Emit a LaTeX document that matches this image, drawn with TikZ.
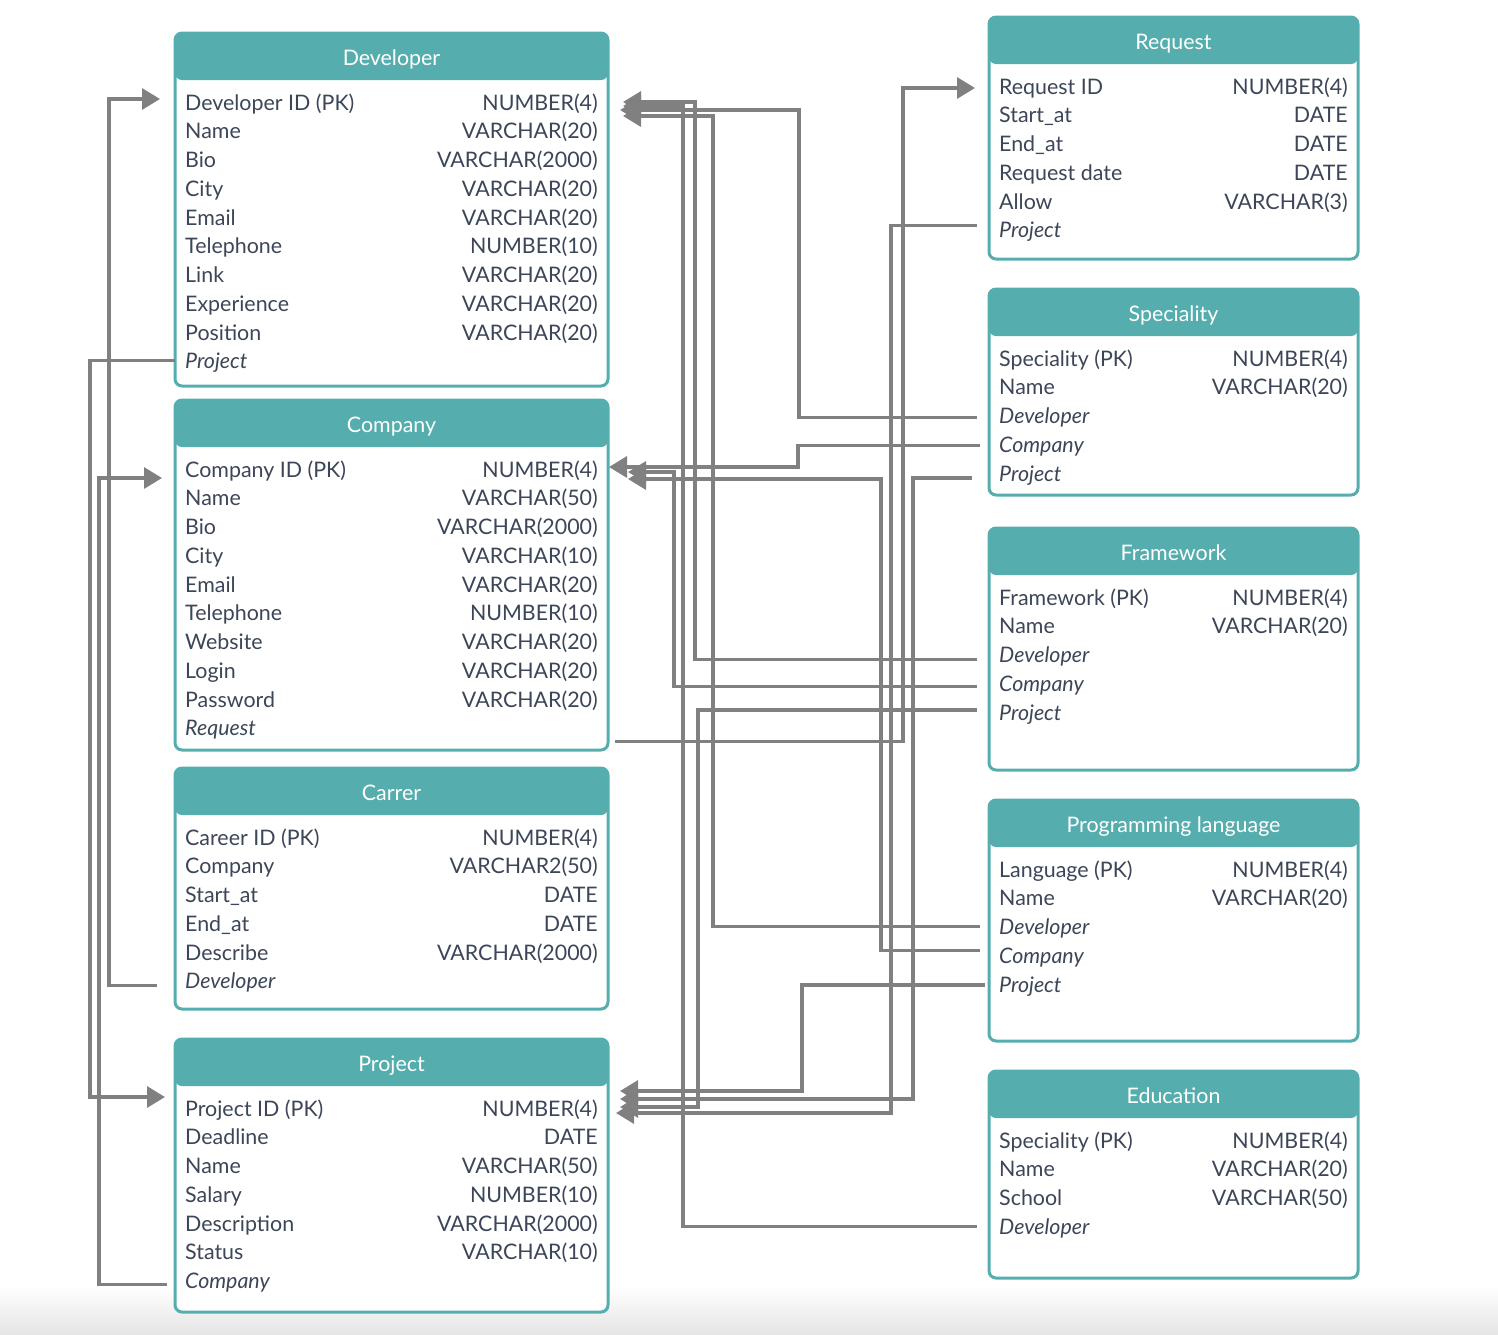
\documentclass[tikz,border=0pt]{standalone}
\usepackage{fontspec}
\setmainfont{Lato}
\usetikzlibrary{arrows.meta}

\definecolor{erteal}{HTML}{55ADAE}
\definecolor{ertext}{HTML}{3C4658}
\definecolor{erline}{HTML}{808080}

\tikzset{
  tbl/.style={draw=erteal, line width=3pt, rounded corners=7pt, fill=white,
    anchor=north west, inner sep=0pt, outer sep=0pt,
    path picture={\fill[erteal] (path picture bounding box.north west)
      rectangle ([yshift=-47pt]path picture bounding box.north east);}},
  ttl/.style={text=white, inner sep=0pt, text height=16pt, text depth=0pt},
  fld/.style={text=ertext, anchor=west, inner sep=0pt, text height=16pt, text depth=0pt},
  typ/.style={fld, anchor=east},
  link/.style={draw=erline, line width=3.2pt},
  tolink/.style={link, -{Triangle[length=18pt,width=21pt]}}
}

% one table: id, x, top, width, height, title, rows
\newcommand{\ertable}[7]{%
  \node[tbl, minimum width=#4pt, minimum height=#5pt] (#1) at (#2,#3) {};
  \node[ttl] (#1-t) at ({#2+#4/2},{#3+24}) {#6};
  \foreach \n/\t [count=\i] in {#7} {
    \node[fld] (#1-\i) at ({#2+10},{#3+69+28.75*(\i-1)}) {\n};
    \node[typ] (#1-\i-t) at ({#2+#4-10},{#3+69+28.75*(\i-1)}) {\t};
  }
}

\begin{document}
\fontsize{21.4}{26}\selectfont
\begin{tikzpicture}[x=1pt, y=-1pt]
  \useasboundingbox (0,0) rectangle (1498,1334);
  \shade[top color=white, bottom color=black!10] (0,1285) rectangle (1498,1334);

  % left column
  \ertable{dev}{175}{33}{433}{353}{Developer}{Developer ID (PK)/NUMBER(4), Name/VARCHAR(20),
    Bio/VARCHAR(2000), City/VARCHAR(20), Email/VARCHAR(20), Telephone/NUMBER(10),
    Link/VARCHAR(20), Experience/VARCHAR(20), Position/VARCHAR(20), {\itshape Project}/{}}
  \ertable{com}{175}{400}{433}{350}{Company}{Company ID (PK)/NUMBER(4), Name/VARCHAR(50),
    Bio/VARCHAR(2000), City/VARCHAR(10), Email/VARCHAR(20), Telephone/NUMBER(10),
    Website/VARCHAR(20), Login/VARCHAR(20), Password/VARCHAR(20), {\itshape Request}/{}}
  \ertable{car}{175}{768}{433}{241}{Carrer}{Career ID (PK)/NUMBER(4), Company/VARCHAR2(50),
    Start\_at/DATE, End\_at/DATE, Describe/VARCHAR(2000), {\itshape Developer}/{}}
  \ertable{prj}{175}{1039}{433}{273}{Project}{Project ID (PK)/NUMBER(4), Deadline/DATE,
    Name/VARCHAR(50), Salary/NUMBER(10), Description/VARCHAR(2000), Status/VARCHAR(10),
    {\itshape Company}/{}}

  % right column
  \ertable{req}{989}{17}{369}{242}{Request}{Request ID/NUMBER(4), Start\_at/DATE, End\_at/DATE,
    Request date/DATE, Allow/VARCHAR(3), {\itshape Project}/{}}
  \ertable{spc}{989}{289}{369}{206}{Speciality}{Speciality (PK)/NUMBER(4), Name/VARCHAR(20),
    {\itshape Developer}/{}, {\itshape Company}/{}, {\itshape Project}/{}}
  \ertable{frw}{989}{528}{369}{242}{Framework}{Framework (PK)/NUMBER(4), Name/VARCHAR(20),
    {\itshape Developer}/{}, {\itshape Company}/{}, {\itshape Project}/{}}
  \ertable{lng}{989}{800}{369}{241}{Programming language}{Language (PK)/NUMBER(4), Name/VARCHAR(20),
    {\itshape Developer}/{}, {\itshape Company}/{}, {\itshape Project}/{}}
  \ertable{edu}{989}{1071}{369}{207}{Education}{Speciality (PK)/NUMBER(4), Name/VARCHAR(20),
    School/VARCHAR(50), {\itshape Developer}/{}}

  % links on the left
  \draw[tolink] (dev.west |- dev-10) -- ++(-85,0) |- ([xshift=-10pt,yshift=11pt]prj.west |- prj-1);
  \draw[tolink] ([xshift=-18pt,yshift=-5pt]car.west |- car-6) -- ++(-48,0) |- ([xshift=-15pt,yshift=3pt]dev.west |- dev-1);
  \draw[tolink] ([xshift=-8pt,yshift=-4pt]prj.west |- prj-7) -- ++(-68,0) |- ([xshift=-13pt,yshift=-9pt]com.west |- com-1);

  % links across the middle
  \draw[tolink] ([xshift=7pt,yshift=-14pt]com.east |- com-10) -- ++(288,0) |- ([xshift=-14pt,yshift=-2pt]req.west |- req-1);
  \draw[tolink] ([xshift=-12pt,yshift=4pt]req.west |- req-6) -- ++(-86,0) |- ([xshift=8pt,yshift=-5pt]prj.east |- prj-1);
  \draw[tolink] ([xshift=-12pt,yshift=-2pt]spc.west |- spc-3) -- ++(-178,0) |- ([xshift=12pt,yshift=-8pt]dev.east |- dev-1);
  \draw[tolink] ([xshift=-9pt,yshift=-1pt]spc.west |- spc-4) -- ++(-182,0) |- ([xshift=1pt,yshift=2pt]com.east |- com-1);
  \draw[tolink] ([xshift=-17pt,yshift=-5pt]spc.west |- spc-5) -- ++(-59,0) |- ([xshift=12pt,yshift=9pt]prj.east |- prj-1);
  \draw[tolink] ([xshift=-12pt,yshift=-5pt]frw.west |- frw-3) -- ++(-282,0) |- ([xshift=15pt]dev.east |- dev-1);
  \draw[tolink] ([xshift=-12pt,yshift=-3pt]frw.west |- frw-4) -- ++(-303,0) |- ([xshift=20pt,yshift=-3pt]com.east |- com-1);
  \draw[tolink] ([xshift=-12pt,yshift=2pt]frw.west |- frw-5) -- ++(-279,0) |- ([xshift=12pt,yshift=1pt]prj.east |- prj-1);
  \draw[tolink] ([xshift=-9pt]lng.west |- lng-3) -- ++(-267,0) |- ([xshift=15pt,yshift=-14pt]dev.east |- dev-1);
  \draw[tolink] ([xshift=-9pt,yshift=5pt]lng.west |- lng-4) -- ++(-99,0) |- ([xshift=20pt,yshift=-10pt]com.east |- com-1);
  \draw[tolink] ([xshift=-4pt,yshift=-1pt]lng.west |- lng-5) -- ++(-183,0) |- ([xshift=12pt,yshift=17pt]prj.east |- prj-1);
  \draw[tolink] ([xshift=-12pt]edu.west |- edu-4) -- ++(-294,0) |- ([xshift=15pt,yshift=-4pt]dev.east |- dev-1);
\end{tikzpicture}
\end{document}
